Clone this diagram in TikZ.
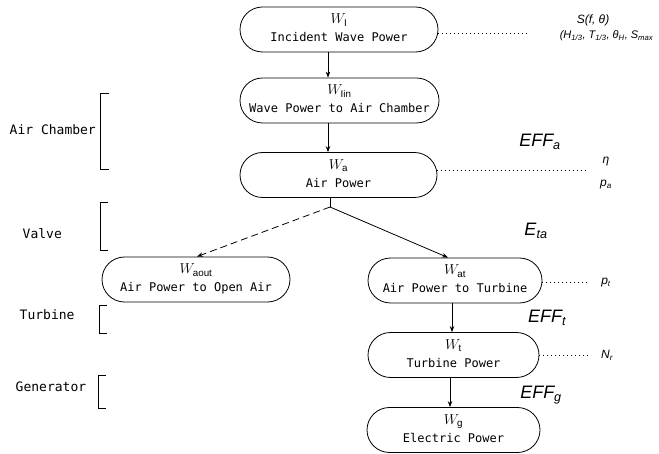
\documentclass[tikz,border=0pt]{standalone}
\usepackage{fontspec}
\setmainfont{Liberation Sans}
\newfontfamily\boxfont{DejaVu Sans Mono}
\usetikzlibrary{shapes.misc,arrows.meta}
\newcommand\pb[2]{\raisebox{-3pt}{\begin{tabular}{@{}c@{}}{\fontsize{14}{14}\selectfont$W_{\mathrm{#1}}$}\\[1pt] #2\end{tabular}}}
\begin{document}
\begin{tikzpicture}[x=1pt,y=-1pt,line width=0.8pt,
  pbox/.style={draw, rounded rectangle, minimum height=45pt, inner sep=0pt,
    font=\boxfont\fontsize{12}{17}\selectfont},
  flow/.style={-{Stealth[length=6pt,width=4.5pt]}},
  dots/.style={dash pattern=on 1pt off 3pt},
  side/.style={font=\boxfont\fontsize{13}{15}\selectfont},
  var/.style={font=\itshape\fontsize{12}{14}\selectfont},
  eff/.style={font=\itshape\fontsize{18}{20}\selectfont}]
\useasboundingbox (0,0) rectangle (659,454);

% process boxes
\node[pbox, minimum width=198pt] (n1) at (339,29.5) {\pb{I}{Incident Wave Power}};
\node[pbox, minimum width=199pt] (n2) at (339.5,100.5) {\pb{Iin}{Wave Power to Air Chamber}};
\node[pbox, minimum width=197pt] (n3) at (338.5,175) {\pb{a}{Air Power}};
\node[pbox, minimum width=188pt] (n4) at (196,279.5) {\pb{aout}{Air Power to Open Air}};
\node[pbox, minimum width=174pt] (n5) at (455,280.5) {\pb{at}{Air Power to Turbine}};
\node[pbox, minimum width=171pt] (n6) at (453.5,355) {\pb{t}{Turbine Power}};
\node[pbox, minimum width=173pt] (n7) at (453.5,430) {\pb{g}{Electric Power}};

% connectors
\draw[flow] ([xshift=-11pt]n1.south) coordinate (a1) -- (a1 |- n2.north);
\draw[flow] ([xshift=-11.5pt]n2.south) coordinate (a2) -- (a2 |- n3.north);
\coordinate (split) at (330,207);
\draw ([xshift=-8.5pt]n3.south) -- (split);
\draw[flow, dashed, dash pattern=on 7pt off 4pt] (split) -- ([xshift=1pt]n4.north);
\draw[flow] (split) -- ([xshift=-7pt]n5.north);
\draw[flow] ([xshift=-3pt]n5.south) coordinate (a5) -- (a5 |- n6.north);
\draw[flow] ([xshift=-3.5pt]n6.south) coordinate (a6) -- (a6 |- n7.north);

% dotted leaders and variables
\coordinate (d1) at (528,33);
\draw[dots] (n1.east |- d1) -- (d1);
\node[var] (s1) at (593,20) {S(f, θ)};
\node[var, anchor=east, font=\itshape\fontsize{11}{13}\selectfont] (s2) at (657,36) {(H\textsubscript{1/3}, T\textsubscript{1/3}, θ\textsubscript{H}, S\textsubscript{max}};

\coordinate (d3) at (587,170);
\draw[dots] (n3.east |- d3) -- (d3);
\node[var] (eta) at (606,162) {η};
\node[var] (pa) at (606,185) {p\textsubscript{a}};

\coordinate (d5) at (588,282);
\draw[dots] (n5.east |- d5) -- (d5);
\node[var] (pt) at (606,283) {p\textsubscript{t}};

\coordinate (d6) at (588,355);
\draw[dots] (n6.east |- d6) -- (d6);
\node[var] (nr) at (607,355) {N\textsubscript{r}};

% efficiencies
\node[eff] (effa) at (540,142) {EFF\textsubscript{a}};
\node[eff] (eta2) at (536,231) {E\textsubscript{ta}};
\node[eff] (efft) at (547,318) {EFF\textsubscript{t}};
\node[eff] (effg) at (541,395) {EFF\textsubscript{g}};

% component brackets
\node[side, anchor=west] (lac) at (6,130) {Air Chamber};
\draw (109,93) -- (100,93) -- (100,169) -- (109,169);
\node[side, anchor=west] (lva) at (19,234) {Valve};
\draw (108,202) -- (100,202) -- (100,250) -- (108,250);
\node[side, anchor=west] (ltu) at (16,315) {Turbine};
\draw (107,305) -- (99,305) -- (99,333) -- (107,333);
\node[side, anchor=west] (lge) at (12,387) {Generator};
\draw (106,375) -- (98,375) -- (98,408) -- (106,408);
\end{tikzpicture}
\end{document}
